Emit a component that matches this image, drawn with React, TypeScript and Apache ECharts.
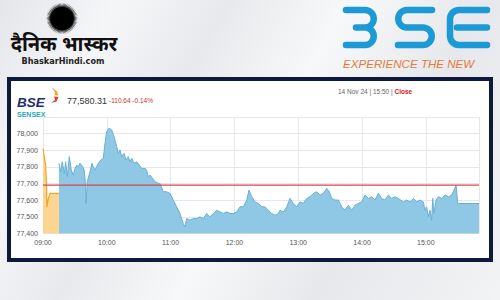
import React, { useEffect, useRef } from "react";
import * as echarts from "echarts";

// ---- data ----
const prevClose = 77690.95;
const lastValue = "77,580.31";
const changeText = "-110.64 -0.14%";
const dateText = "14 Nov 24 | 15:50 | ";
const statusText = "Close";
const xTickMinutes = [0, 60, 120, 180, 240, 300, 360];
const yTicks = [77400, 77500, 77600, 77700, 77800, 77900, 78000, 78100];
const axisEndMinutes = [0, 410];

// pre-open session (minutes after 09:00)
const preopenMinutes = [0, 2.5, 3.3, 3.6, 5, 6.6, 10, 15];
const preopenValues = [77912, 77811, 77691, 77560, 77611, 77641, 77641, 77641];

// regular session (minutes after 09:00)
const sessionMinutes = [
  15, 16.6, 18.1, 20.1, 21.3, 22.9, 24.7, 26.6, 28.5, 30.1, 31.7, 33.2, 34.8, 37.3, 38.8, 40.1, 40.5, 41.7,
  44.2, 46.1, 47.3, 48.9, 52, 54.3, 56.7, 58.3, 59.9, 62.1, 64.6, 66.8, 69.3, 70.8, 72.4, 74, 76.2, 78.1,
  80.2, 81.8, 83.4, 85.6, 88.1, 90.6, 92.8, 95.9, 97.5, 99, 100.6, 103.2, 105.3, 108.4, 110, 113.1, 116.3,
  119.4, 122.5, 125.7, 128.8, 131.9, 133.5, 135.1, 138.2, 141.3, 144.5, 147.6, 150.7, 153.9, 157, 160.2,
  163.4, 166.4, 169.6, 172.8, 175.9, 179, 182.2, 185.3, 188.4, 191.6, 193.7, 196.3, 199.4, 202.5, 205.7,
  208.8, 211.9, 215.1, 218.2, 221.3, 222.9, 226, 229.2, 232.3, 235.4, 238.6, 241.7, 244.8, 248, 251.1,
  254.2, 257.4, 260.5, 263.6, 266.8, 269.2, 271.5, 274.6, 277.7, 280.9, 284, 287.1, 290.3, 293.4, 296.5,
  299.7, 302.8, 305.9, 309.1, 312.2, 315.3, 318.5, 321.6, 324.7, 327.9, 331, 334.1, 338.8, 342, 345.1,
  348.3, 351.4, 354.5, 357.6, 359.2, 360.8, 362.3, 363.9, 365.5, 366.5, 367.7, 369.6, 371.7, 374.9, 378,
  381.1, 384.3, 386.5, 388.4, 390, 410,
];
const sessionValues = [
  77822, 77771, 77831, 77761, 77831, 77741, 77862, 77781, 77751, 77791, 77811, 77801, 77822, 77801, 77781, 77681, 77581, 77711,
  77771, 77822, 77801, 77781, 77822, 77841, 77852, 77942, 78012, 78033, 78022, 77982, 77922, 77882, 77902, 77862, 77882, 77841,
  77862, 77831, 77852, 77822, 77831, 77811, 77791, 77791, 77781, 77741, 77751, 77730, 77711, 77701, 77701, 77651, 77651,
  77641, 77601, 77560, 77520, 77460, 77440, 77490, 77480, 77490, 77490, 77500, 77490, 77520, 77500, 77520,
  77540, 77530, 77520, 77530, 77520, 77520, 77530, 77560, 77560, 77601, 77661, 77621, 77590, 77581, 77560,
  77560, 77540, 77520, 77510, 77520, 77540, 77530, 77560, 77611, 77581, 77560, 77590, 77581, 77611, 77621,
  77641, 77651, 77631, 77641, 77671, 77651, 77611, 77601, 77601, 77560, 77540, 77570, 77540, 77570, 77581,
  77590, 77631, 77611, 77621, 77601, 77641, 77611, 77601, 77631, 77611, 77621, 77611, 77590, 77601, 77590,
  77611, 77590, 77601, 77590, 77540, 77560, 77500, 77540, 77480, 77611, 77520, 77601, 77621, 77611, 77631,
  77621, 77631, 77661, 77691, 77580, 77580,
];

const fmtTime = (m: number) => {
  const h = 9 + Math.floor(m / 60);
  const mm = Math.round(m % 60);
  return `${String(h).padStart(2, "0")}:${String(mm).padStart(2, "0")}`;
};

const bsePath =
  "M346 10 H365 A8.75 8.75 0 0 1 365 27.5 H356 M365 27.5 A8.75 8.75 0 0 1 365 45 H346 " +
  "M432 10 H407 A8.75 8.75 0 0 0 407 27.5 H423 A8.75 8.75 0 0 1 423 45 H398 " +
  "M487 10 H459 A9 9 0 0 0 450 19 V36 A9 9 0 0 0 459 45 H487 M457 27.5 H487";

let registered = false;

export default function App() {
  const ref = useRef<HTMLDivElement>(null);
  useEffect(() => {
    if (!ref.current) return;
    if (!registered) {
      echarts.graphic.registerShape("bselogo", echarts.graphic.extendPath(bsePath, {}) as any);
      registered = true;
    }
    const chart = echarts.init(ref.current, undefined, { renderer: "svg" });

    const sun: number[][] = [];
    const n = 72;
    for (let i = 0; i < n * 2; i++) {
      const r = i % 2 === 0 ? 16 : 11.5;
      const a = (Math.PI * i) / n;
      sun.push([62 + r * Math.cos(a), 18.5 + r * Math.sin(a)]);
    }

    const font = "Liberation Sans, Arial, sans-serif";
    const preData = preopenMinutes.map((m, i) => [m, preopenValues[i]]);
    const sesData = sessionMinutes.map((m, i) => [m, sessionValues[i]]);
    const closeData = axisEndMinutes.map((m) => [m, prevClose]);

    chart.setOption({
      animation: false,
      grid: { left: 43, top: 117, width: 436, height: 116.5, containLabel: false },
      xAxis: {
        type: "value",
        min: 0,
        max: 410,
        interval: 60,
        axisLine: { show: false },
        axisTick: { show: false },
        axisLabel: {
          fontSize: 7,
          color: "#555",
          fontFamily: font,
          margin: 5,
          formatter: (v: number) => (xTickMinutes.includes(v) ? fmtTime(v) : ""),
        },
        splitLine: { show: true, lineStyle: { color: "#e6e7ec", width: 1 } },
      },
      yAxis: {
        type: "value",
        min: yTicks[0],
        max: yTicks[yTicks.length - 1],
        interval: 100,
        axisLine: { show: false },
        axisTick: { show: false },
        axisLabel: {
          fontSize: 7,
          color: "#555",
          fontFamily: font,
          margin: 5,
          showMaxLabel: false,
          formatter: (v: number) => v.toLocaleString("en-US"),
        },
        splitLine: { show: true, lineStyle: { color: "#e6e7ec", width: 1 } },
      },
      series: [
        {
          type: "line",
          data: preData,
          showSymbol: false,
          lineStyle: { color: "#f2a52b", width: 1.2 },
          areaStyle: { color: "#fcd591", opacity: 1, origin: "start" },
          z: 3,
        },
        {
          type: "line",
          data: sesData,
          showSymbol: false,
          lineStyle: { color: "#6aafd6", width: 1 },
          areaStyle: { color: "#8fc8e4", opacity: 1, origin: "start" },
          z: 2,
        },
        {
          type: "line",
          data: closeData,
          showSymbol: false,
          silent: true,
          lineStyle: { color: "#d9464a", width: 1.1 },
          itemStyle: { color: "#d9464a" },
          z: 4,
        },
      ],
      graphic: [
        {
          type: "rect",
          z: -10,
          shape: { x: 9, y: 79, width: 482, height: 181 },
          style: { fill: "#ffffff", stroke: "#0e1a3d", lineWidth: 4 },
        },
        { type: "polygon", shape: { points: sun }, style: { fill: "#111" } },
        { type: "circle", shape: { cx: 62, cy: 18.5, r: 11.5 }, style: { fill: "#000" } },
        {
          type: "text",
          x: 64,
          y: 43,
          style: {
            text: "दैनिक भास्कर",
            fill: "#111",
            font: "bold 20px 'Noto Sans', 'DejaVu Sans', sans-serif",
            textAlign: "center",
            textVerticalAlign: "middle",
          },
        },
        {
          type: "text",
          x: 63,
          y: 60.5,
          style: {
            text: "BhaskarHindi.com",
            fill: "#222",
            font: "bold 9px 'DejaVu Sans Condensed', 'Liberation Sans Narrow', sans-serif",
            textAlign: "center",
            textVerticalAlign: "middle",
          },
        },
        {
          type: "bselogo",
          x: 0,
          y: 0,
          style: { fill: "none", stroke: "#1b9ad6", lineWidth: 6.5, lineCap: "round" },
        },
        {
          type: "text",
          x: 343,
          y: 64,
          scaleX: 1.16,
          style: {
            text: "EXPERIENCE THE NEW",
            fill: "#e57a3c",
            font: "italic 10px 'Liberation Sans', Arial, sans-serif",
            textAlign: "left",
            textVerticalAlign: "middle",
          },
        },
        {
          type: "text",
          x: 17,
          y: 102.5,
          style: {
            text: "BSE",
            fill: "#1d2d6e",
            font: "italic bold 13.5px 'Liberation Sans', Arial, sans-serif",
            textAlign: "left",
            textVerticalAlign: "middle",
          },
        },
        {
          type: "polygon",
          shape: { points: [[51.5, 87], [57, 91.5], [58.5, 95.5], [54.5, 95], [55, 92]] },
          style: { fill: "#f5a623" },
        },
        {
          type: "polygon",
          shape: { points: [[54, 96.5], [58.5, 97], [56.5, 101.5], [51, 103], [55, 100]] },
          style: { fill: "#e2402b" },
        },
        {
          type: "text",
          x: 17,
          y: 114.5,
          style: {
            text: "SENSEX",
            fill: "#2aa5b8",
            font: "bold 7px 'Liberation Sans', Arial, sans-serif",
            textAlign: "left",
            textVerticalAlign: "middle",
          },
        },
        {
          type: "text",
          x: 67,
          y: 100.5,
          style: {
            text: lastValue,
            fill: "#333",
            font: "9px 'Liberation Sans', Arial, sans-serif",
            textAlign: "left",
            textVerticalAlign: "middle",
          },
        },
        {
          type: "text",
          x: 109,
          y: 100.5,
          style: {
            text: changeText,
            fill: "#d0302a",
            font: "6.5px 'Liberation Sans', Arial, sans-serif",
            textAlign: "left",
            textVerticalAlign: "middle",
          },
        },
        {
          type: "text",
          x: 338,
          y: 91,
          style: {
            text: `{a|${dateText}}{b|${statusText}}`,
            textAlign: "left",
            textVerticalAlign: "middle",
            rich: {
              a: { fill: "#666", fontSize: 6.5, fontFamily: font },
              b: { fill: "#d0202a", fontSize: 6.5, fontFamily: font, fontWeight: "bold" },
            },
          },
        },
      ],
    });
    return () => chart.dispose();
  }, []);

  return (
    <div
      style={{
        position: "fixed",
        left: 0,
        top: 0,
        width: 500,
        height: 300,
        background:
          "linear-gradient(120deg, #e4e6ea 0%, #f5f6f8 18%, #e7e9ec 34%, #f7f8f9 52%, #e6e8eb 72%, #f2f3f5 100%)",
      }}
    >
      <div ref={ref} style={{ width: 500, height: 300 }} />
    </div>
  );
}
